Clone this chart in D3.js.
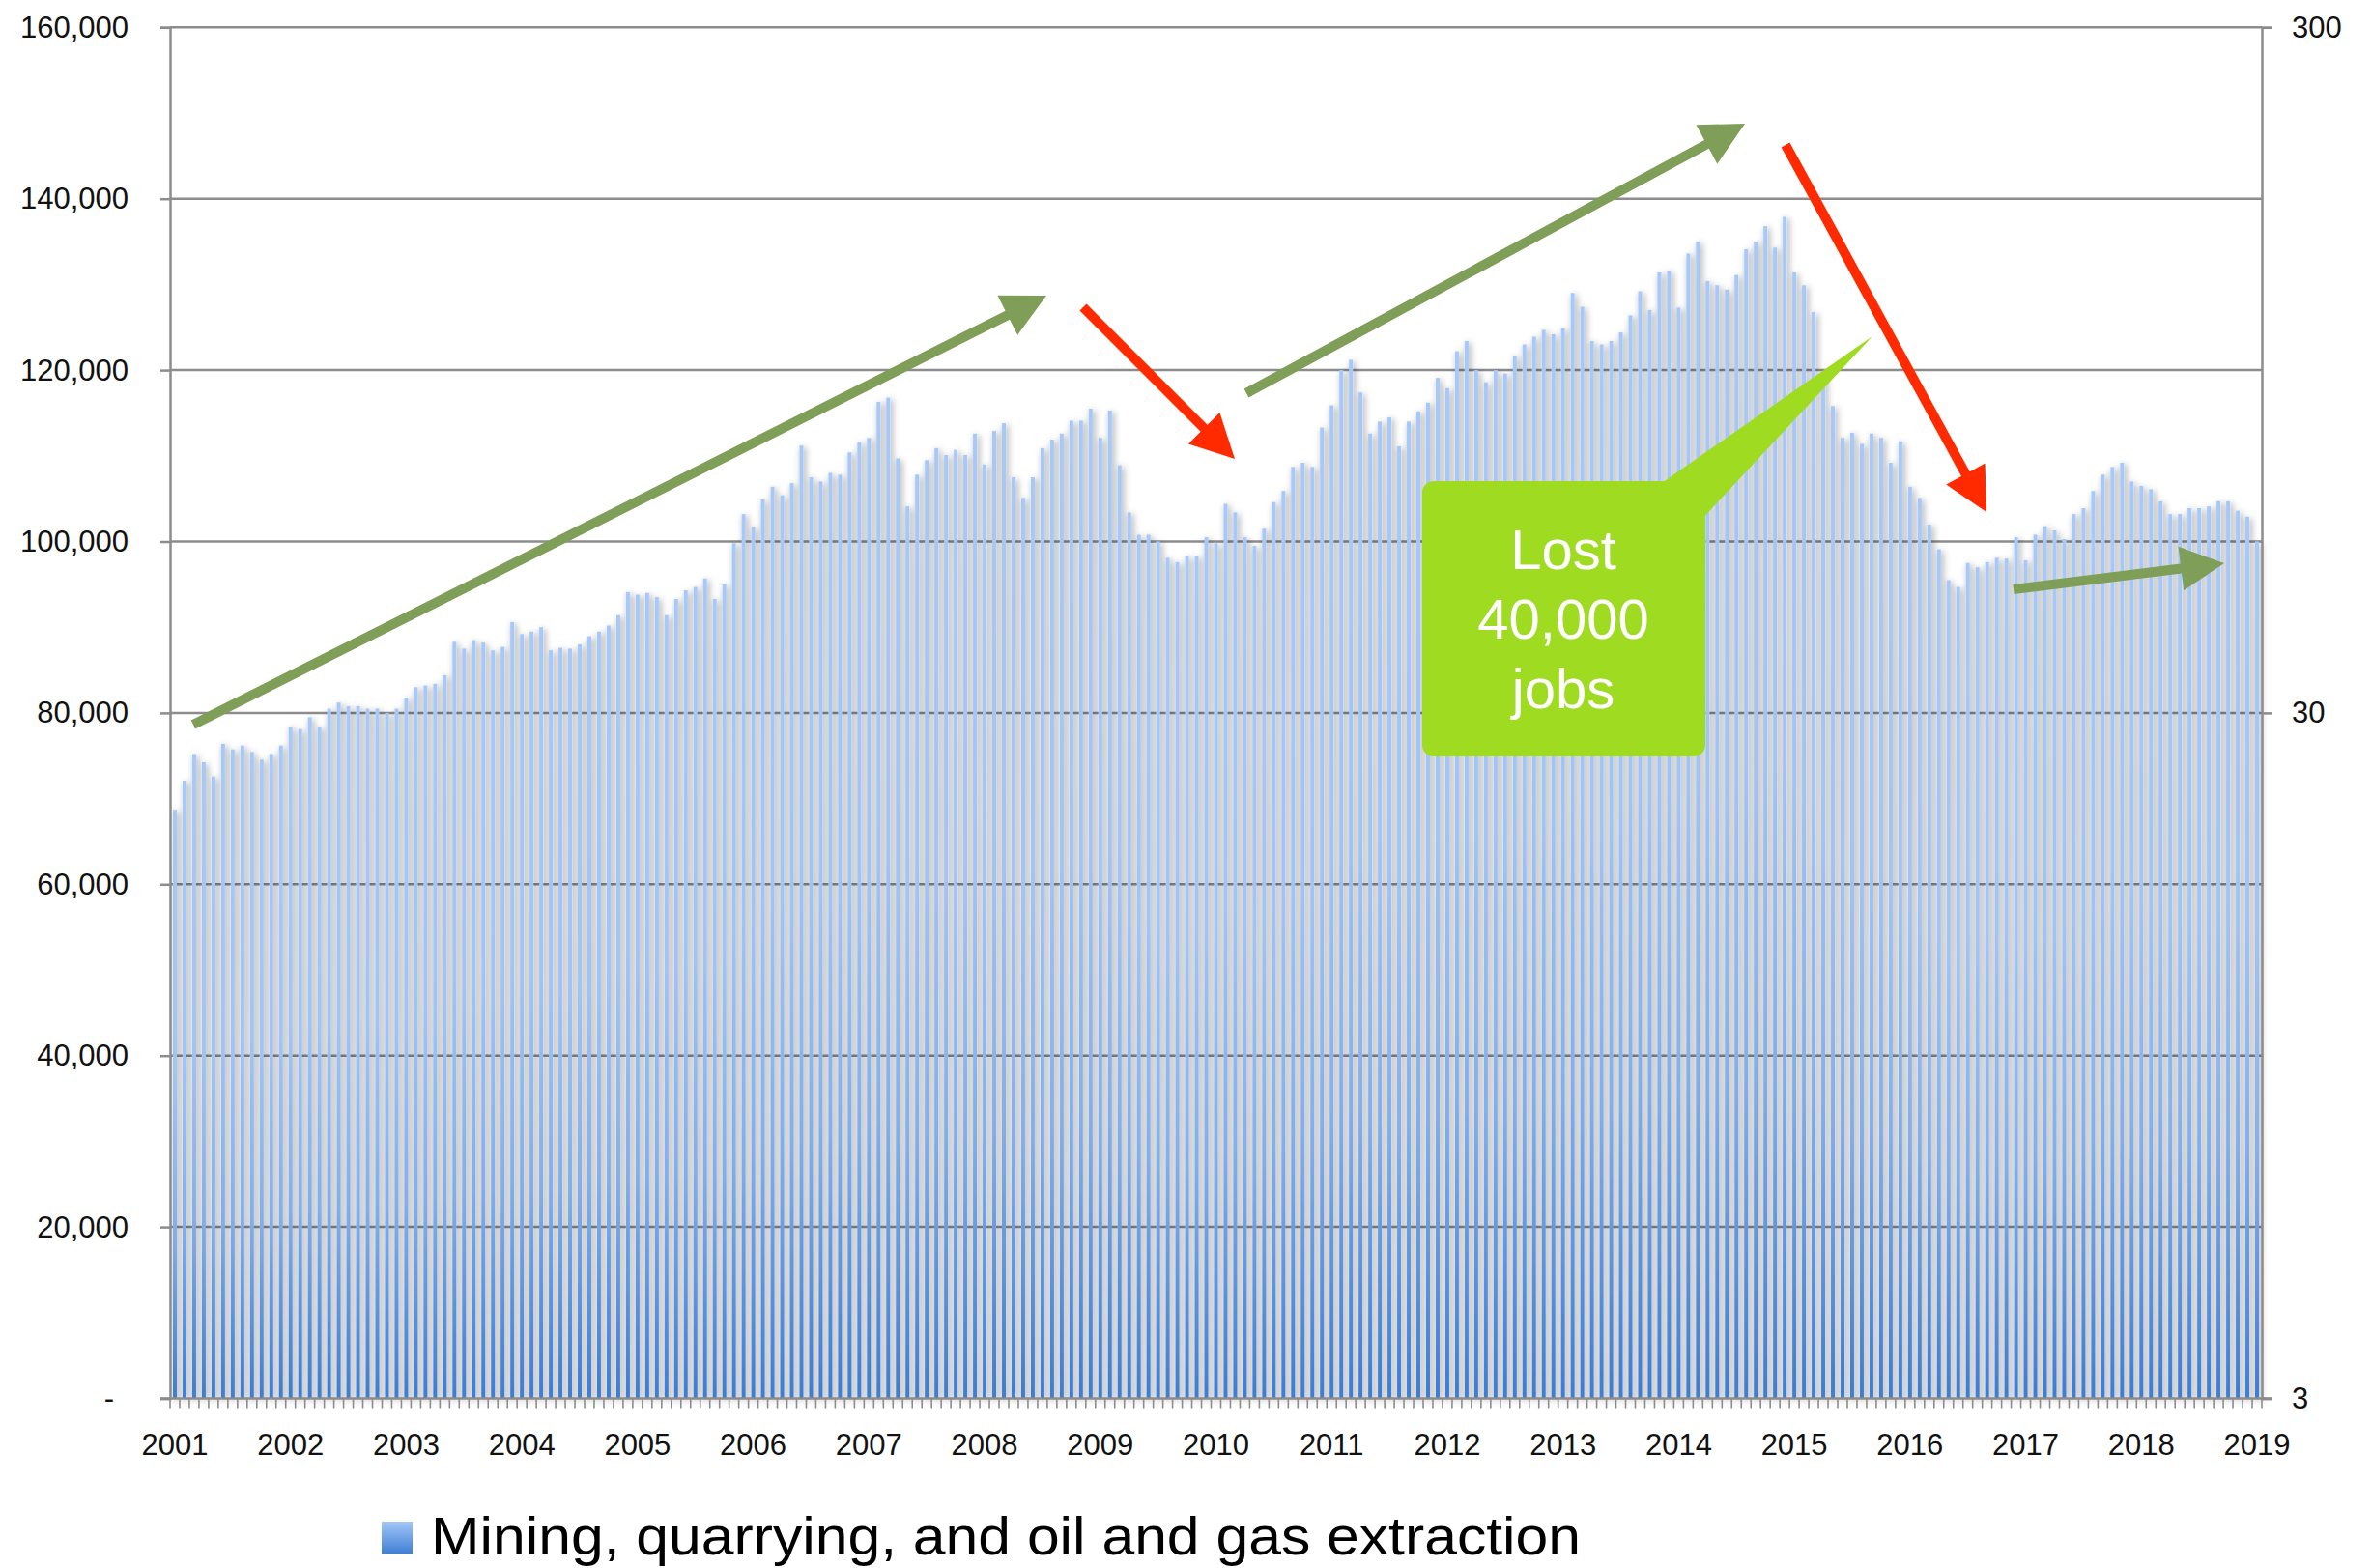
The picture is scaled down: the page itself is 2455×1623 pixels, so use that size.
<!DOCTYPE html>
<html>
<head>
<meta charset="utf-8">
<script src="https://cdn.jsdelivr.net/npm/d3@7"></script>
<style>
  html, body { margin: 0; padding: 0; background: #ffffff; }
  svg { display: block; }
  .tick text { font-family: "Liberation Sans", Arial, sans-serif; }
</style>
</head>
<body>
<svg id="chart" width="2455" height="1623"></svg>
<script>
// ---------------- data ----------------
const startYear = 2001;
const yearLabels = ["2001","2002","2003","2004","2005","2006","2007","2008","2009","2010",
                    "2011","2012","2013","2014","2015","2016","2017","2018","2019"];
// monthly employment, Jan 2001 .. Jan 2019
const jobs = [
  68700, 72100, 75200, 74250, 72600, 76400, 75750, 76200, 75450, 74550, 75200, 76200,   // 2001
  78400, 78100, 79500, 78400, 80500, 81200, 80800, 80800, 80500, 80500, 80000, 80500,   // 2002
  81800, 83000, 83200, 83400, 84400, 88300, 87500, 88500, 88200, 87300, 87700, 90600,   // 2003
  89200, 89500, 90000, 87300, 87600, 87500, 88000, 88950, 89500, 90200, 91400, 94100,   // 2004
  93800, 94000, 93500, 91400, 93300, 94300, 94700, 95700, 93300, 95000, 99800, 103200,  // 2005
  101700, 104900, 106400, 105400, 106800, 111200, 107500, 107000, 108000, 107800, 110400, 111600, // 2006
  112100, 116300, 116800, 109700, 104100, 107800, 109500, 110900, 110100, 110700, 110100, 112600, // 2007
  109000, 112900, 113800, 107500, 105100, 107500, 110900, 111900, 112600, 114100, 114100, 115500, // 2008
  112100, 115300, 108900, 103400, 100800, 100800, 100000, 98100, 97600, 98300, 98300, 100500,     // 2009
  99800, 104400, 103400, 100500, 99500, 101500, 104600, 105900, 108700, 109200, 108700, 113300,   // 2010
  115900, 120000, 121200, 117400, 112600, 114000, 114500, 111100, 114000, 115200, 116200, 119100, // 2011
  117900, 122200, 123400, 120000, 118600, 120000, 119600, 121700, 123000, 123900, 124700, 124200, // 2012
  124900, 129000, 127400, 123400, 123000, 123400, 124400, 126400, 129200, 127000, 131400, 131600, // 2013
  127300, 133600, 135000, 130400, 129900, 129400, 131100, 134100, 135000, 136800, 134300, 137900, // 2014
  131400, 129900, 126800, 119500, 115800, 112100, 112700, 111400, 112600, 112100, 109200, 111700, // 2015
  106400, 105100, 102000, 99100, 95500, 94700, 97500, 97000, 97600, 98100, 98000, 100500,         // 2016
  97800, 100800, 101800, 101300, 100300, 103200, 103900, 105900, 107800, 108700, 109200, 107000,  // 2017
  106500, 106100, 104700, 103200, 103200, 103900, 103900, 104100, 104700, 104700, 103600, 102900, // 2018
  100000                                                                                          // 2019
];
const leftTicks = [0, 20000, 40000, 60000, 80000, 100000, 120000, 140000, 160000];
const rightTicks = [3, 30, 300];
const seriesName = "Mining, quarrying, and oil and gas extraction";
const calloutLines = ["Lost", "40,000", "jobs"];

// month categories built from the start year
const months = jobs.map((_, i) => (startYear + Math.floor(i / 12)) + "-" + String(i % 12 + 1).padStart(2, "0"));

// ---------------- layout ----------------
const plot = { left: 176, right: 2341, top: 28.3, bottom: 1447.5 };
const svg = d3.select("#chart");
const defs = svg.append("defs");

const barGrad = defs.append("linearGradient").attr("id", "barGrad")
  .attr("x1", 0).attr("y1", 0).attr("x2", 0).attr("y2", 1);
[[0, "#a6c9fb"], [0.45, "#9fc4f8"], [0.72, "#80afee"], [1, "#3b7dd6"]].forEach(([o, c]) =>
  barGrad.append("stop").attr("offset", o).attr("stop-color", c));

const legGrad = defs.append("linearGradient").attr("id", "legGrad")
  .attr("x1", 0).attr("y1", 0).attr("x2", 0).attr("y2", 1);
[[0, "#a3c7f8"], [1, "#3f7fd4"]].forEach(([o, c]) =>
  legGrad.append("stop").attr("offset", o).attr("stop-color", c));

const f = defs.append("filter").attr("id", "shadow")
  .attr("filterUnits", "userSpaceOnUse")
  .attr("x", 140).attr("y", 0).attr("width", 2240).attr("height", 1480);
f.append("feGaussianBlur").attr("in", "SourceAlpha").attr("stdDeviation", 3.5).attr("result", "blur");
f.append("feOffset").attr("in", "blur").attr("dx", 1.5).attr("dy", 1.5).attr("result", "off");
f.append("feFlood").attr("flood-color", "#000").attr("flood-opacity", 0.42).attr("result", "col");
f.append("feComposite").attr("in", "col").attr("in2", "off").attr("operator", "in").attr("result", "sh");
const fm = f.append("feMerge");
fm.append("feMergeNode").attr("in", "sh");
fm.append("feMergeNode").attr("in", "SourceGraphic");

// ---------------- scales ----------------
const x = d3.scaleBand().domain(months).range([plot.left, plot.right])
  .paddingInner(0.6).paddingOuter(0.3);
const y = d3.scaleLinear().domain([0, 160000]).range([plot.bottom, plot.top]);
const yR = d3.scaleLog().domain([3, 300]).range([plot.bottom, plot.top]);

const gridColor = "#8c8c8c";

// gridlines
svg.append("g").selectAll("line").data(leftTicks.filter(d => d > 0)).join("line")
  .attr("x1", plot.left).attr("x2", plot.right)
  .attr("y1", d => y(d)).attr("y2", d => y(d))
  .attr("stroke", gridColor).attr("stroke-width", 2.5);

// bars
svg.append("g").attr("filter", "url(#shadow)")
  .selectAll("rect").data(jobs).join("rect")
  .attr("x", (d, i) => x(months[i]))
  .attr("width", x.bandwidth())
  .attr("y", d => y(d))
  .attr("height", d => y(0) - y(d))
  .attr("fill", "url(#barGrad)");

// left axis
const axL = d3.axisLeft(y).tickValues(leftTicks).tickSize(10).tickPadding(33)
  .tickFormat(d => d === 0 ? "-" : d3.format(",")(d));
const gL = svg.append("g").attr("transform", `translate(${plot.left},0)`).call(axL);
gL.select(".domain").attr("stroke", gridColor).attr("stroke-width", 2.5);
gL.selectAll(".tick line").attr("stroke", gridColor).attr("stroke-width", 2.5);
gL.selectAll(".tick text").attr("font-size", 31).attr("fill", "#111");
gL.selectAll(".tick text").filter(d => d === 0).attr("x", -58);

// right axis (log)
const axR = d3.axisRight(yR).tickValues(rightTicks).tickSize(11).tickPadding(20)
  .tickFormat(d3.format("d"));
const gR = svg.append("g").attr("transform", `translate(${plot.right},0)`).call(axR);
gR.select(".domain").attr("stroke", gridColor).attr("stroke-width", 2.5);
gR.selectAll(".tick line").attr("stroke", gridColor).attr("stroke-width", 2.5);
gR.selectAll(".tick text").attr("font-size", 31).attr("fill", "#111");

// bottom axis: line, boundary ticks, year labels
const step = x.step();
const edge = i => x(months[i]) - step * x.paddingOuter();
const gB = svg.append("g");
gB.append("line").attr("x1", plot.left - 10).attr("x2", plot.right + 11)
  .attr("y1", y(0)).attr("y2", y(0)).attr("stroke", gridColor).attr("stroke-width", 2.5);
const bounds = months.map((m, i) => edge(i)).concat([plot.right]);
gB.selectAll("line.tk").data(bounds).join("line").attr("class", "tk")
  .attr("x1", d => d).attr("x2", d => d)
  .attr("y1", y(0)).attr("y2", y(0) + 10)
  .attr("stroke", gridColor).attr("stroke-width", 1.6);
gB.selectAll("text").data(yearLabels).join("text")
  .attr("x", (d, i) => x(months[i * 12]) + x.bandwidth() / 2)
  .attr("y", 1506)
  .attr("text-anchor", "middle")
  .attr("font-family", "'Liberation Sans', Arial, sans-serif")
  .attr("font-size", 31).attr("fill", "#111")
  .text(d => d);

// legend
const lg = svg.append("g");
lg.append("rect").attr("x", 395).attr("y", 1575).attr("width", 32).attr("height", 33)
  .attr("fill", "url(#legGrad)");
lg.append("text").attr("x", 446).attr("y", 1609)
  .attr("font-family", "'Liberation Sans', Arial, sans-serif")
  .attr("font-size", 56).attr("fill", "#000")
  .attr("textLength", 1190).attr("lengthAdjust", "spacingAndGlyphs")
  .text(seriesName);

// ---------------- annotations ----------------
function arrow(g, a) {
  const dx = a.x2 - a.x1, dy = a.y2 - a.y1, L = Math.hypot(dx, dy);
  const ux = dx / L, uy = dy / L, nx = -uy, ny = ux;
  const bx = a.x2 - ux * a.head, by = a.y2 - uy * a.head;
  const w = a.w / 2, hw = a.hw / 2;
  const pts = [
    [a.x1 + nx * w, a.y1 + ny * w], [bx + nx * w, by + ny * w], [bx + nx * hw, by + ny * hw],
    [a.x2, a.y2], [bx - nx * hw, by - ny * hw], [bx - nx * w, by - ny * w], [a.x1 - nx * w, a.y1 - ny * w]
  ];
  g.append("polygon").attr("points", pts.map(p => p.join(",")).join(" ")).attr("fill", a.color);
}
const green = "#7f9f58", red = "#ff2a00";
const arrows = [
  { x1: 200, y1: 750, x2: 1083, y2: 306, color: green },
  { x1: 1121, y1: 318, x2: 1278, y2: 475, color: red },
  { x1: 1290, y1: 407, x2: 1806, y2: 128, color: green },
  { x1: 1848, y1: 150, x2: 2056, y2: 530, color: red },
  { x1: 2084, y1: 610, x2: 2302, y2: 583, color: green }
];
const ag = svg.append("g");
arrows.forEach(a => arrow(ag, Object.assign({ w: 10, head: 45, hw: 46 }, a)));

// callout
const cg = svg.append("g");
const calloutFill = "#9edb21";
cg.append("rect").attr("x", 1472).attr("y", 498).attr("width", 293).attr("height", 285)
  .attr("rx", 12).attr("fill", calloutFill);
cg.append("polygon").attr("points", "1722,498.5 1938,348 1764.5,534").attr("fill", calloutFill);
cg.selectAll("text").data(calloutLines).join("text")
  .attr("x", 1618).attr("y", (d, i) => 589 + i * 72)
  .attr("text-anchor", "middle")
  .attr("font-family", "'Liberation Sans', Arial, sans-serif")
  .attr("font-size", 58).attr("fill", "#fff")
  .text(d => d);
</script>
</body>
</html>
